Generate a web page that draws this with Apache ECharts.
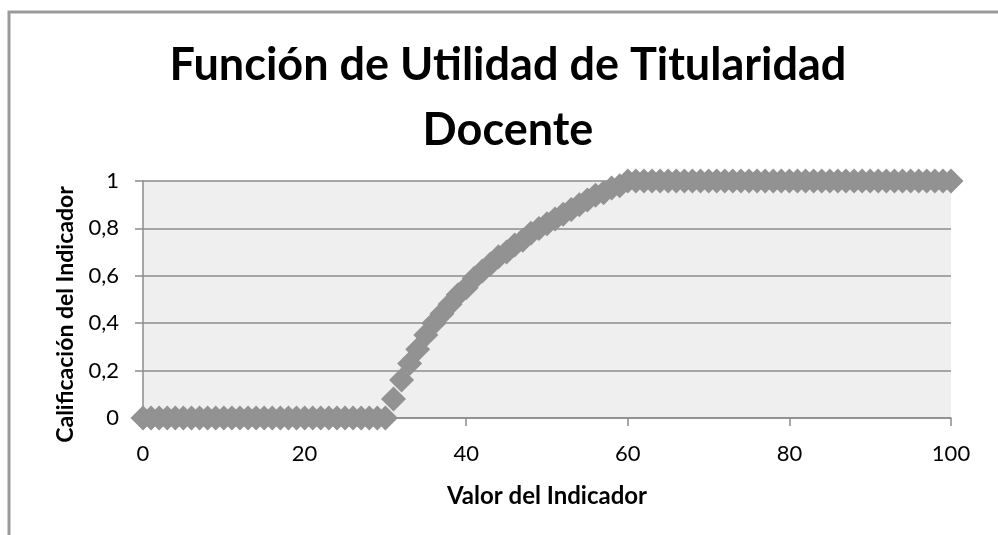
<!DOCTYPE html>
<html>
<head>
<meta charset="utf-8">
<title>Función de Utilidad de Titularidad Docente</title>
<script src="https://cdn.jsdelivr.net/npm/echarts@6/dist/echarts.min.js"></script>
<style>
  html, body { margin: 0; padding: 0; background: #ffffff; }
  #chart { width: 998px; height: 535px; }
</style>
</head>
<body>
<div id="chart"></div>
<script>
// datos
const xValues = [
  0, 1, 2, 3, 4, 5, 6, 7, 8, 9, 10, 11, 12, 13, 14, 15, 16, 17, 18, 19, 20,
  21, 22, 23, 24, 25, 26, 27, 28, 29, 30, 31, 32, 33, 34, 35, 36, 37, 38, 39, 40,
  41, 42, 43, 44, 45, 46, 47, 48, 49, 50, 51, 52, 53, 54, 55, 56, 57, 58, 59, 60,
  61, 62, 63, 64, 65, 66, 67, 68, 69, 70, 71, 72, 73, 74, 75, 76, 77, 78, 79, 80,
  81, 82, 83, 84, 85, 86, 87, 88, 89, 90, 91, 92, 93, 94, 95, 96, 97, 98, 99, 100
]
const yValues = [
  0, 0, 0, 0, 0, 0, 0, 0, 0, 0, 0, 0, 0, 0, 0, 0, 0, 0, 0, 0, 0,
  0, 0, 0, 0, 0, 0, 0, 0, 0, 0, 0.08, 0.16, 0.23, 0.29, 0.35, 0.40, 0.44, 0.48, 0.52, 0.55,
  0.59, 0.62, 0.65, 0.68, 0.70, 0.73, 0.75, 0.78, 0.80, 0.82, 0.84, 0.86, 0.88, 0.90, 0.92, 0.94, 0.95, 0.97, 0.98, 1,
  1, 1, 1, 1, 1, 1, 1, 1, 1, 1, 1, 1, 1, 1, 1, 1, 1, 1, 1, 1,
  1, 1, 1, 1, 1, 1, 1, 1, 1, 1, 1, 1, 1, 1, 1, 1, 1, 1, 1, 1
]
const xTicks = [0, 20, 40, 60, 80, 100]
const yTicks = ['0', '0,2', '0,4', '0,6', '0,8', '1']

const titleText = 'Función de Utilidad de Titularidad\nDocente'
const xName = 'Valor del Indicador'
const yName = 'Calificación del Indicador'

const FONT = 'Lato, "Open Sans", sans-serif'
const GRID_COLOR = '#8c8c8c'

const getChartOption = () => {
  return {
    animation: false,
    backgroundColor: '#ffffff',
    title: {
      text: titleText,
      left: 503,
      textAlign: 'center',
      top: 28,
      textStyle: {
        fontFamily: FONT,
        fontSize: 45,
        fontWeight: 'bold',
        color: '#000000',
        lineHeight: 65
      }
    },
    graphic: [
      {
        type: 'rect',
        shape: { x: 9, y: 12, width: 1300, height: 900 },
        style: { fill: 'none', stroke: '#9b9b9b', lineWidth: 3 },
        silent: true
      }
    ],
    grid: {
      left: 143,
      right: 47,
      top: 181,
      bottom: 117,
      show: true,
      backgroundColor: '#efefef',
      borderWidth: 0
    },
    xAxis: {
      type: 'value',
      min: xTicks[0],
      max: xTicks[xTicks.length - 1],
      interval: 20,
      name: xName,
      nameLocation: 'middle',
      nameGap: 66,
      nameTextStyle: {
        fontFamily: FONT,
        fontSize: 24,
        fontWeight: 'bold',
        color: '#000000'
      },
      axisLine: { show: true, onZero: false, lineStyle: { color: GRID_COLOR, width: 1.5 } },
      axisTick: { show: true, length: 8, lineStyle: { color: GRID_COLOR, width: 1.5 } },
      axisLabel: {
        margin: 25,
        fontFamily: FONT,
        fontSize: 22,
        color: '#000000'
      },
      splitLine: { show: false }
    },
    yAxis: {
      type: 'value',
      min: 0,
      max: 1,
      interval: 0.2,
      name: yName,
      nameLocation: 'middle',
      nameGap: 66,
      nameRotate: 90,
      nameTextStyle: {
        fontFamily: FONT,
        fontSize: 23,
        fontWeight: 'bold',
        color: '#000000',
        // baja el titulo del eje unos px, como en el original
        padding: [0, 30, 0, 0]
      },
      axisLine: { show: true, lineStyle: { color: GRID_COLOR, width: 1.5 } },
      axisTick: { show: true, length: 8, lineStyle: { color: GRID_COLOR, width: 1.5 } },
      axisLabel: {
        margin: 24,
        fontFamily: FONT,
        fontSize: 22,
        color: '#000000',
        formatter: (v) => yTicks[Math.round(v / 0.2)]
      },
      splitLine: { show: true, lineStyle: { color: GRID_COLOR, width: 1.5 } }
    },
    series: [
      {
        type: 'scatter',
        symbol: 'diamond',
        symbolSize: 25,
        data: xValues.map((x, i) => [x, yValues[i]]),
        itemStyle: { color: '#929292', opacity: 1 },
        clip: false
      }
    ]
  }
}

let chartInstance = null

const initChart = () => {
  const el = document.getElementById('chart')
  chartInstance = echarts.init(el)
  chartInstance.setOption(getChartOption())
  window.addEventListener('resize', handleResize)
}

const handleResize = () => {
  if (chartInstance) {
    chartInstance.resize()
  }
}

initChart()
</script>
</body>
</html>
